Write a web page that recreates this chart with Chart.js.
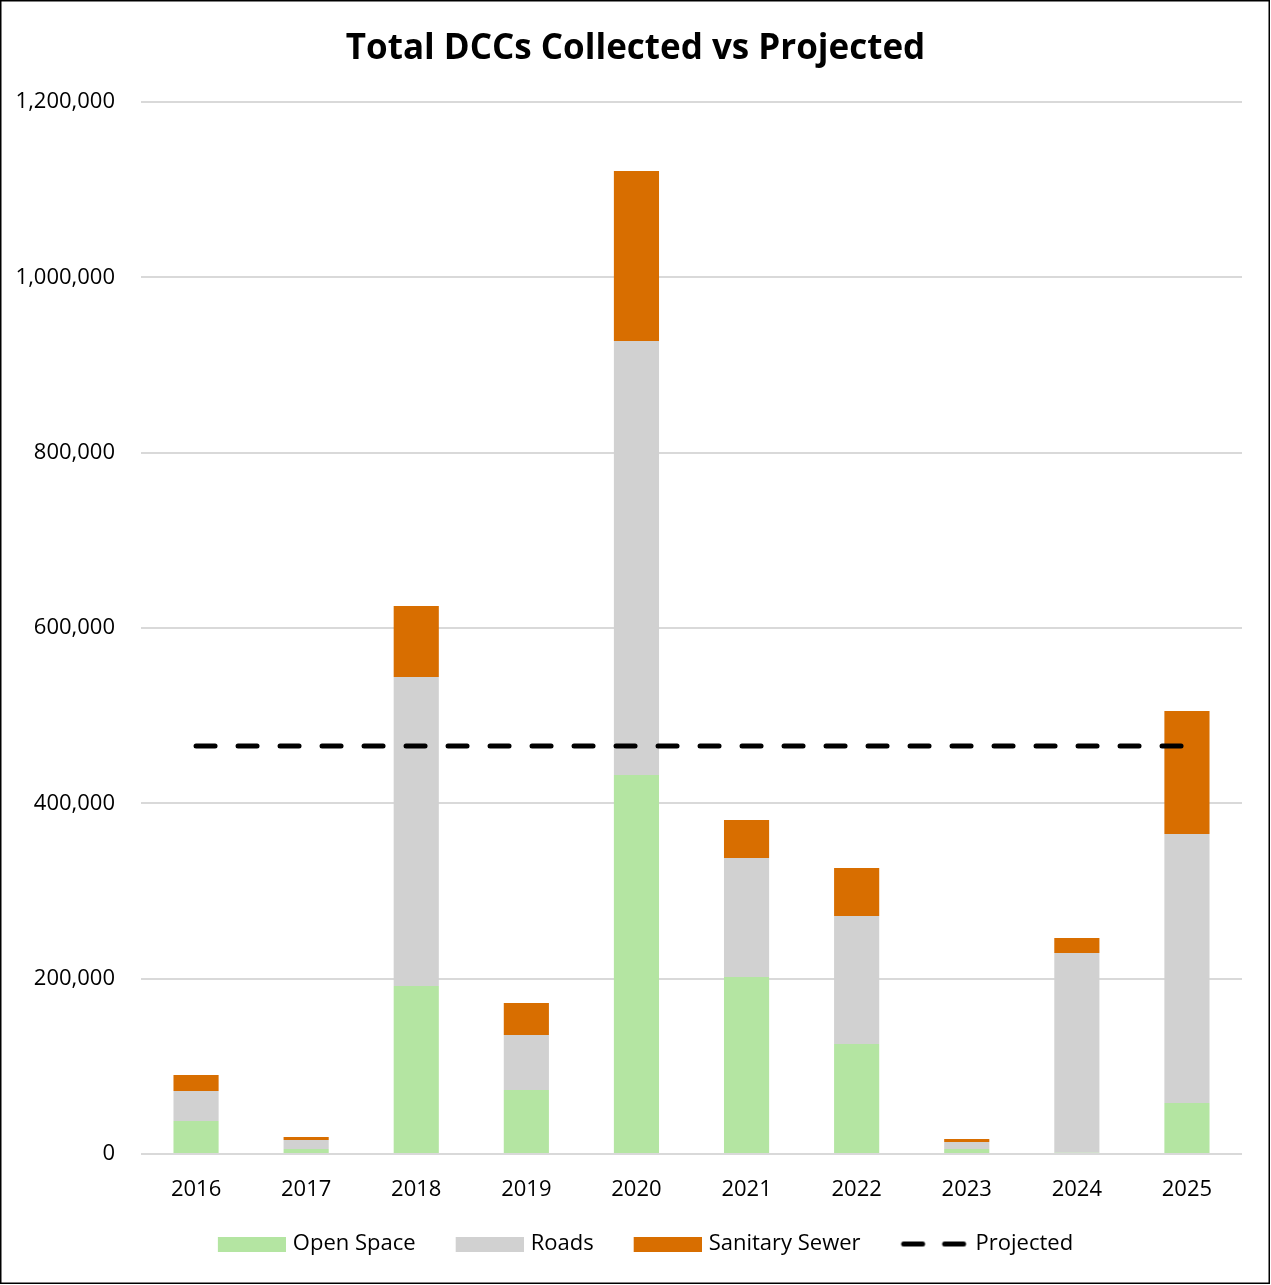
<!DOCTYPE html>
<html>
<head>
<meta charset="utf-8">
<script src="https://cdn.jsdelivr.net/npm/chart.js@4.4.1/dist/chart.umd.min.js"></script>
<style>
  html, body { margin: 0; padding: 0; background: #fff; }
  #chart { display: block; }
</style>
</head>
<body>
<canvas id="chart" width="1271" height="1285"></canvas>
<script>
const years = ['2016', '2017', '2018', '2019', '2020', '2021', '2022', '2023', '2024', '2025'];
const openSpace = [37600, 5700, 191600, 73000, 432300, 201900, 125500, 5700, 1500, 58200];
const roads = [34300, 10300, 352500, 62700, 495100, 135700, 146000, 8000, 227800, 306800];
const sanitarySewer = [18200, 3400, 81000, 36500, 193900, 43400, 54700, 3400, 17100, 140300];
const projected = [465400, 465400, 465400, 465400, 465400, 465400, 465400, 465400, 465400, 465400];
const yTicks = [0, 200000, 400000, 600000, 800000, 1000000, 1200000];

const GREEN = '#b4e5a2';
const GREY = '#d1d1d1';
const ORANGE = '#d86e00';
const FONT = "'Open Sans', 'Noto Sans', sans-serif";

// legend swatches: 68px key at the right of a 92px image, blank on the left
function swatch(color) {
    const c = document.createElement('canvas');
    c.width = 92; c.height = 15;
    const g = c.getContext('2d');
    g.fillStyle = color;
    g.fillRect(24, 0, 68, 15);
    return c;
}
function dashSwatch() {
    const c = document.createElement('canvas');
    c.width = 92; c.height = 15;
    const g = c.getContext('2d');
    g.strokeStyle = '#000';
    g.lineWidth = 5;
    g.lineCap = 'round';
    g.setLineDash([19, 22]);
    g.beginPath();
    g.moveTo(27, 7.5);
    g.lineTo(89, 7.5);
    g.stroke();
    return c;
}

const frame = {
    id: 'frame',
    beforeDraw(chart) {
        const ctx = chart.ctx;
        ctx.save();
        ctx.fillStyle = '#fff';
        ctx.fillRect(0, 0, chart.width, chart.height);
        ctx.restore();
    },
    afterDraw(chart) {
        const ctx = chart.ctx;
        ctx.save();
        ctx.strokeStyle = '#000';
        ctx.lineWidth = 1.5;
        ctx.strokeRect(0.75, 0.75, 1268.5, 1282.5);
        ctx.restore();
    }
};

new Chart(document.getElementById('chart').getContext('2d'), {
    type: 'bar',
    data: {
        labels: years,
        datasets: [{
            label: 'Open Space',
            data: openSpace,
            backgroundColor: GREEN,
            stack: 'dcc',
            order: 2,
            legendImg: swatch(GREEN)
        }, {
            label: 'Roads',
            data: roads,
            backgroundColor: GREY,
            stack: 'dcc',
            order: 2,
            legendImg: swatch(GREY)
        }, {
            label: 'Sanitary Sewer',
            data: sanitarySewer,
            backgroundColor: ORANGE,
            stack: 'dcc',
            order: 2,
            legendImg: swatch(ORANGE)
        }, {
            type: 'line',
            label: 'Projected',
            data: projected,
            borderColor: '#000',
            borderWidth: 5,
            borderDash: [19, 23],
            borderCapStyle: 'round',
            pointRadius: 0,
            fill: false,
            stack: 'proj',
            order: 1,
            legendImg: dashSwatch()
        }]
    },
    options: {
        responsive: false,
        animation: false,
        layout: { padding: { left: 0, right: 0, top: 0, bottom: 20 } },
        datasets: {
            bar: { barPercentage: 0.41, categoryPercentage: 1 }
        },
        plugins: {
            title: {
                display: true,
                text: 'Total DCCs Collected vs Projected',
                color: '#000',
                font: { family: FONT, size: 35, weight: 'bold', lineHeight: 1.2 },
                padding: { top: 28, bottom: 32 }
            },
            legend: {
                position: 'bottom',
                labels: {
                    usePointStyle: true,
                    pointStyleWidth: 84,
                    padding: 20,
                    color: '#000',
                    font: { family: FONT, size: 22 },
                    generateLabels(chart) {
                        return chart.data.datasets.map((ds, i) => ({
                            text: ds.label,
                            pointStyle: ds.legendImg,
                            fillStyle: 'transparent',
                            strokeStyle: 'transparent',
                            lineWidth: 0,
                            hidden: !chart.isDatasetVisible(i),
                            datasetIndex: i
                        }));
                    }
                }
            },
            tooltip: { enabled: false }
        },
        scales: {
            x: {
                stacked: true,
                grid: { display: false, drawTicks: false },
                border: { display: false },
                afterFit(scale) {
                    scale.height = 59;
                },
                ticks: { color: '#000', padding: 23, font: { family: FONT, size: 22 } }
            },
            y: {
                stacked: true,
                min: 0,
                max: 1200000,
                afterBuildTicks(scale) {
                    scale.ticks = yTicks.map(v => ({ value: v }));
                },
                afterFit(scale) {
                    scale.width = 141;
                },
                grid: { color: '#d9d9d9', lineWidth: 2, drawTicks: false },
                border: { display: false },
                ticks: {
                    color: '#000',
                    padding: 26,
                    font: { family: FONT, size: 22 },
                    callback: v => v.toLocaleString('en-US')
                }
            },
            // empty right-hand gutter so the title stays centred on the page
            yGutter: {
                type: 'linear',
                position: 'right',
                display: true,
                grid: { display: false, drawTicks: false },
                border: { display: false },
                ticks: { display: false },
                afterFit(scale) {
                    scale.width = 29;
                }
            }
        }
    },
    plugins: [frame]
});
</script>
</body>
</html>
